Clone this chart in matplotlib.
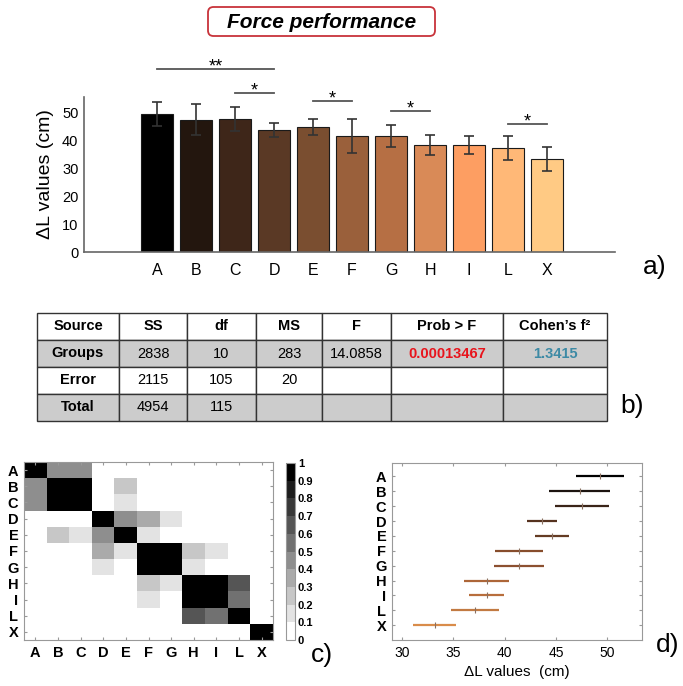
import numpy as np
import matplotlib
matplotlib.use("Agg")
import matplotlib.pyplot as plt
from matplotlib.colors import ListedColormap, BoundaryNorm
from matplotlib.patches import FancyBboxPatch

plt.rcParams["font.family"] = ["Liberation Sans", "DejaVu Sans"]

# ---- data ----
groups = ["A", "B", "C", "D", "E", "F", "G", "H", "I", "L", "X"]
means = [49.5, 47.5, 47.7, 43.8, 44.8, 41.5, 41.5, 38.4, 38.4, 37.3, 33.3]
sds = [4.4, 5.6, 4.4, 2.4, 2.9, 6.1, 4.0, 3.6, 3.2, 4.3, 4.2]
bar_colors = ["#000000", "#23160e", "#3e2619", "#5a3925", "#7a4e30", "#9a603b",
              "#b66f44", "#d98a57", "#fd9e62", "#ffb877", "#ffca84"]
line_colors = ["#000000", "#1c1410", "#3a2418", "#55321f", "#643b23", "#874d2c",
               "#8c5030", "#ad6638", "#b86e3c", "#c27a42", "#d98c4a"]

sig_pairs = [("A", "D"), ("C", "D"), ("E", "F"), ("G", "H"), ("L", "X")]
sig_heights = [65.7, 57.2, 54.2, 50.6, 46.0]
sig_labels = ["**", "*", "*", "*", "*"]

anova_cols = ["Source", "SS", "df", "MS", "F", "Prob > F", "Cohen\u2019s f\u00b2"]
anova_groups = ["Groups", "2838", "10", "283", "14.0858", "0.00013467", "1.3415"]
anova_error = ["Error", "2115", "105", "20", "", "", ""]
anova_total = ["Total", "4954", "115", "", "", "", ""]

# pairwise similarity (symmetric), rows/cols in `groups` order
sim = np.array([
    [1.00, 0.45, 0.45, 0, 0, 0, 0, 0, 0, 0, 0],
    [0.45, 1.00, 1.00, 0, 0.25, 0, 0, 0, 0, 0, 0],
    [0.45, 1.00, 1.00, 0, 0.15, 0, 0, 0, 0, 0, 0],
    [0, 0, 0, 1.00, 0.45, 0.35, 0.15, 0, 0, 0, 0],
    [0, 0.25, 0.15, 0.45, 1.00, 0.15, 0, 0, 0, 0, 0],
    [0, 0, 0, 0.35, 0.15, 1.00, 1.00, 0.25, 0.15, 0, 0],
    [0, 0, 0, 0.15, 0, 1.00, 1.00, 0.15, 0, 0, 0],
    [0, 0, 0, 0, 0, 0.25, 0.15, 1.00, 1.00, 0.62, 0],
    [0, 0, 0, 0, 0, 0.15, 0, 1.00, 1.00, 0.52, 0],
    [0, 0, 0, 0, 0, 0, 0, 0.62, 0.52, 1.00, 0],
    [0, 0, 0, 0, 0, 0, 0, 0, 0, 0, 1.00],
])

ci_mean = [49.3, 47.3, 47.55, 43.65, 44.65, 41.4, 41.4, 38.25, 38.25, 37.1, 33.15]
ci_half = [2.33, 3.0, 2.63, 1.45, 1.65, 2.3, 2.45, 2.2, 1.73, 2.37, 2.07]

fig = plt.figure(figsize=(6.83, 6.86), dpi=100)

# ---- title ----
fig.patches.append(FancyBboxPatch((208 / 683, 1 - 36 / 686), 227 / 683, 29 / 686,
                                  boxstyle="round,pad=0,rounding_size=0.008",
                                  transform=fig.transFigure, fc="white",
                                  ec="#c8333a", lw=1.3))
fig.text(322 / 683, 1 - 22 / 686, "Force performance", ha="center", va="center",
         fontsize=15, fontweight="bold", fontstyle="italic")

# ---- a) bar chart ----
ax = fig.add_axes([84 / 683, 1 - 252 / 686, 531 / 683, 155 / 686])
x = np.arange(len(groups))
ax.bar(x, means, width=0.81, color=bar_colors, edgecolor="#1a1a1a", linewidth=0.8)
ax.errorbar(x, means, yerr=sds, fmt="none", ecolor="#333333", elinewidth=1.2,
            capsize=3.8, capthick=1.2)
ax.set_xlim(-1.87, 11.74)
ax.set_ylim(0, 55.6)
ax.set_yticks([0, 10, 20, 30, 40, 50])
ax.set_xticks(x)
ax.set_xticklabels(groups, fontsize=11.5)
ax.tick_params(axis="x", length=0, pad=8)
ax.tick_params(axis="y", length=0, pad=4, labelsize=10.5)
for s in ["top", "right"]:
    ax.spines[s].set_visible(False)
for s in ["left", "bottom"]:
    ax.spines[s].set_color("#666666")
    ax.spines[s].set_linewidth(1.2)
ax.set_ylabel("\u0394L values (cm)", fontsize=14, labelpad=6)
for (g1, g2), h, lab in zip(sig_pairs, sig_heights, sig_labels):
    i1, i2 = groups.index(g1), groups.index(g2)
    ax.plot([i1, i2], [h, h], color="#555555", lw=1.3, clip_on=False)
    ax.annotate(lab, ((i1 + i2) / 2, h), xytext=(0, -5), textcoords="offset points",
                ha="center", va="bottom", fontsize=13, annotation_clip=False)
fig.text(655 / 683, 1 - 267 / 686, "a)", ha="center", va="center", fontsize=19)

# ---- b) ANOVA table ----
tax = fig.add_axes([37 / 683, 1 - 421 / 686, 570 / 683, 108 / 686])
tax.axis("off")
col_w = np.array([82, 68, 69, 66, 69, 112, 104]) / 570
rows = [anova_cols, anova_groups, anova_error, anova_total]
fills = ["white", "#cccccc", "white", "#cccccc"]
tab = tax.table(cellText=rows, colWidths=col_w, cellLoc="center", bbox=[0, 0, 1, 1])
tab.auto_set_font_size(False)
for (r, c), cell in tab.get_celld().items():
    cell.set_facecolor(fills[r])
    cell.set_edgecolor("#333333")
    cell.set_linewidth(1.0)
    t = cell.get_text()
    t.set_fontsize(10.5)
    if r == 0 or c == 0:
        t.set_fontweight("bold")
    if r == 1 and c == 5:
        t.set_color("#e8141c")
        t.set_fontweight("bold")
    if r == 1 and c == 6:
        t.set_color("#3d8aa5")
        t.set_fontweight("bold")
fig.text(632 / 683, 1 - 406 / 686, "b)", ha="center", va="center", fontsize=19)

# ---- c) similarity map ----
cax_map = fig.add_axes([24 / 683, 1 - 640 / 686, 249 / 683, 178 / 686])
levels = np.linspace(0, 1, 11)
cmap = ListedColormap(plt.cm.gray_r(np.linspace(0, 1, 10)))
norm = BoundaryNorm(levels, cmap.N)
im = cax_map.imshow(sim, cmap=cmap, norm=norm, aspect="auto", interpolation="nearest")
cax_map.set_xticks(x)
cax_map.set_yticks(x)
cax_map.set_xticklabels(groups, fontsize=10.5, fontweight="bold")
cax_map.set_yticklabels(groups, fontsize=10.5, fontweight="bold")
cax_map.tick_params(direction="in", length=2.5, color="#999999", top=True, right=True, pad=4)
for s in cax_map.spines.values():
    s.set_color("#999999")
cb_ax = fig.add_axes([286 / 683, 1 - 640 / 686, 9 / 683, 177 / 686])
cb = fig.colorbar(im, cax=cb_ax, ticks=levels)
cb.ax.set_yticklabels(["0", "0.1", "0.2", "0.3", "0.4", "0.5", "0.6", "0.7", "0.8", "0.9", "1"],
                      fontsize=8, fontweight="bold")
cb.ax.tick_params(length=0, pad=2)
cb.outline.set_edgecolor("#999999")
fig.text(322 / 683, 1 - 655 / 686, "c)", ha="center", va="center", fontsize=19)

# ---- d) multiple comparison intervals ----
dax = fig.add_axes([392 / 683, 1 - 640 / 686, 250 / 683, 177 / 686])
yy = np.arange(1, len(groups) + 1)
for i in range(len(groups)):
    lo, hi = ci_mean[i] - ci_half[i], ci_mean[i] + ci_half[i]
    dax.plot([lo, hi], [yy[i], yy[i]], color=line_colors[i], lw=1.6, solid_capstyle="butt")
    dax.plot(ci_mean[i], yy[i], marker="|", ms=4.5, mew=0.8, color="#8a7060")
dax.set_xlim(29.0, 53.4)
dax.set_ylim(12.0, 0.1)
dax.set_xticks([30, 35, 40, 45, 50])
dax.set_yticks(yy)
dax.set_yticklabels(groups, fontsize=10.5, fontweight="bold")
dax.tick_params(axis="x", labelsize=10)
dax.tick_params(direction="in", length=2.5, color="#999999", top=True, right=True, pad=4)
for s in dax.spines.values():
    s.set_color("#999999")
dax.set_xlabel("\u0394L values  (cm)", fontsize=11, labelpad=4)
fig.text(668 / 683, 1 - 645 / 686, "d)", ha="center", va="center", fontsize=19)

fig.savefig("out.png", dpi=100)
